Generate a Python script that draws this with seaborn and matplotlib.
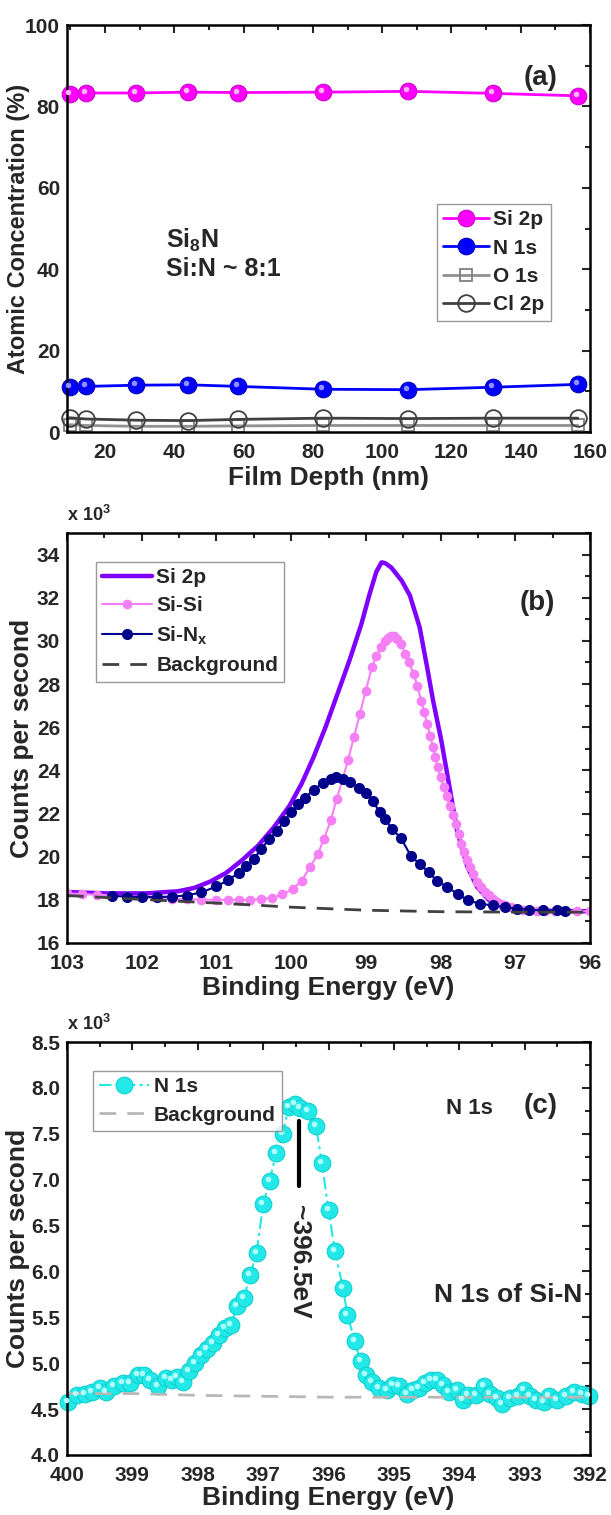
import numpy as np
import pandas as pd
import matplotlib
matplotlib.use("Agg")
import matplotlib.pyplot as plt
from matplotlib.ticker import MultipleLocator, FormatStrFormatter
from matplotlib.transforms import offset_copy
import seaborn as sns

# ---- panel (a): depth profile ----
depth = [9.8, 14.5, 29, 44, 58.5, 83, 107.5, 132, 156.5]
si2p_at = [83.0, 83.3, 83.3, 83.5, 83.4, 83.5, 83.7, 83.2, 82.6]
n1s_at = [11.0, 11.2, 11.5, 11.6, 11.2, 10.5, 10.4, 11.0, 11.7]
o1s_at = [1.8, 1.6, 1.4, 1.4, 1.5, 1.6, 1.6, 1.6, 1.6]
cl2p_at = [3.5, 3.2, 2.9, 2.8, 3.1, 3.4, 3.3, 3.4, 3.4]

# ---- panel (b): Si 2p fit ----
env_be = [103.0, 102.47, 101.94, 101.51, 101.3, 101.08, 100.87, 100.66, 100.44, 100.23,
          100.02, 99.86, 99.7, 99.54, 99.38, 99.22, 99.06, 98.95, 98.86, 98.79, 98.74,
          98.66, 98.52, 98.41, 98.28, 98.18, 98.1, 97.99, 97.88, 97.78, 97.64, 97.51,
          97.35, 97.14, 96.71, 96.34, 96.0]
env_cps = [18.36, 18.3, 18.3, 18.4, 18.55, 18.85, 19.25, 19.83, 20.52, 21.37,
           22.37, 23.38, 24.61, 26.0, 27.54, 29.09, 30.78, 32.17, 33.2, 33.64, 33.6,
           33.4, 32.79, 32.1, 30.63, 28.78, 27.23, 25.38, 23.22, 21.22, 19.52, 18.59,
           17.98, 17.7, 17.51, 17.48, 17.47]

sisi_be = [103.0, 102.8, 102.6, 102.4, 102.2, 102.0, 101.8, 101.6, 101.4, 101.2, 101.0,
           100.85, 100.7, 100.55, 100.4, 100.25, 100.12, 99.98, 99.86, 99.75, 99.64,
           99.56, 99.47, 99.39, 99.31, 99.24, 99.16, 99.08, 99.0, 98.92, 98.86, 98.8,
           98.74, 98.7, 98.66, 98.62, 98.58, 98.53, 98.47, 98.42, 98.36, 98.31, 98.26,
           98.22, 98.18, 98.14, 98.1, 98.07, 98.04, 98.0, 97.96, 97.92, 97.88, 97.84,
           97.8, 97.76, 97.72, 97.68, 97.64, 97.6, 97.56, 97.51, 97.46, 97.4, 97.35,
           97.3, 97.24, 97.19, 97.14, 97.06, 96.98, 96.9, 96.82, 96.71, 96.6, 96.47,
           96.34, 96.17, 96.0]
sisi_cps = [18.3, 18.27, 18.24, 18.2, 18.16, 18.12, 18.08, 18.05, 18.03, 18.01, 18.0,
            18.0, 18.0, 18.0, 18.03, 18.1, 18.25, 18.5, 18.88, 19.5, 20.14,
            20.83, 21.68, 22.68, 23.6, 24.46, 25.54, 26.62, 27.7, 28.78, 29.3, 29.7,
            30.0, 30.15, 30.25, 30.22, 30.1, 29.85, 29.4, 29.0, 28.47, 27.9, 27.23,
            26.7, 26.15, 25.6, 25.07, 24.6, 24.15, 23.7, 23.22, 22.8, 22.37, 21.95,
            21.52, 21.05, 20.6, 20.2, 19.83, 19.5, 19.21, 18.85, 18.59, 18.38, 18.21,
            18.05, 17.9, 17.8, 17.74, 17.66, 17.59, 17.55, 17.51, 17.49, 17.48, 17.48,
            17.48, 17.47, 17.47]

sinx_be = [102.4, 102.2, 102.0, 101.8, 101.6, 101.4, 101.2, 101.0, 100.85, 100.7,
           100.6, 100.5, 100.4, 100.3, 100.19, 100.09, 100.0, 99.91, 99.81, 99.7,
           99.58, 99.47, 99.4, 99.3, 99.21, 99.09, 99.0, 98.91, 98.81, 98.74, 98.65,
           98.53, 98.4, 98.28, 98.16, 98.05, 97.91, 97.77, 97.63, 97.47, 97.3, 97.14,
           96.98, 96.82, 96.63, 96.44, 96.34]
sinx_cps = [18.18, 18.15, 18.13, 18.13, 18.15, 18.2, 18.35, 18.62, 18.9, 19.25,
            19.55, 19.9, 20.35, 20.8, 21.2, 21.66, 22.05, 22.43, 22.74, 23.1,
            23.4, 23.62, 23.7, 23.62, 23.45, 23.2, 22.97, 22.58, 22.05, 21.74, 21.28,
            20.86, 20.05, 19.66, 19.28, 18.89, 18.58, 18.28, 17.97, 17.82, 17.74, 17.66,
            17.59, 17.54, 17.51, 17.51, 17.48]

bg_b_be = [103.0, 102.0, 101.0, 100.4, 100.0, 99.0, 98.0, 97.0, 96.0]
bg_b_cps = [18.2, 18.02, 17.85, 17.74, 17.66, 17.52, 17.45, 17.43, 17.43]

# ---- panel (c): N 1s ----
n1s_be = [399.98, 399.85, 399.73, 399.61, 399.49, 399.4, 399.28, 399.15, 399.04, 398.92,
          398.82, 398.73, 398.61, 398.49, 398.4, 398.31, 398.22, 398.13, 398.04, 397.95,
          397.86, 397.77, 397.67, 397.58, 397.49, 397.4, 397.29, 397.2, 397.1, 397.0,
          396.9, 396.8, 396.7, 396.61, 396.52, 396.43, 396.31, 396.19, 396.1, 396.0,
          395.9, 395.78, 395.71, 395.6, 395.51, 395.43, 395.34, 395.22, 395.1, 395.01,
          394.92, 394.8, 394.71, 394.62, 394.52, 394.43, 394.34, 394.25, 394.16, 394.04,
          393.95, 393.86, 393.74, 393.62, 393.53, 393.43, 393.34, 393.22, 393.1, 393.01,
          392.92, 392.83, 392.71, 392.62, 392.5, 392.37, 392.25, 392.13, 392.01]
n1s_cps = [4.58, 4.65, 4.67, 4.69, 4.73, 4.69, 4.75, 4.78, 4.78, 4.87,
           4.87, 4.82, 4.75, 4.84, 4.82, 4.85, 4.8, 4.91, 5.0, 5.09,
           5.15, 5.22, 5.31, 5.38, 5.42, 5.62, 5.71, 5.96, 6.2, 6.73,
           6.99, 7.29, 7.5, 7.79, 7.82, 7.78, 7.75, 7.58, 7.18, 6.67,
           6.22, 5.82, 5.53, 5.24, 5.02, 4.87, 4.8, 4.73, 4.71, 4.76,
           4.75, 4.67, 4.71, 4.73, 4.78, 4.82, 4.82, 4.76, 4.69, 4.71,
           4.6, 4.65, 4.65, 4.75, 4.67, 4.62, 4.56, 4.62, 4.64, 4.71,
           4.64, 4.6, 4.58, 4.64, 4.6, 4.64, 4.69, 4.67, 4.64]
bg_c_be = [400.0, 399.0, 398.0, 397.0, 396.0, 395.0, 394.0, 393.0, 392.0]
bg_c_cps = [4.67, 4.67, 4.65, 4.64, 4.63, 4.63, 4.63, 4.63, 4.63]

sns.set_style("white")
plt.rcParams['font.family'] = ['Liberation Sans', 'DejaVu Sans']
plt.rcParams['font.weight'] = 'bold'
plt.rcParams['axes.labelweight'] = 'bold'
plt.rcParams['mathtext.fontset'] = 'custom'
plt.rcParams['mathtext.rm'] = 'Liberation Sans:bold'
plt.rcParams['mathtext.it'] = 'Liberation Sans:bold'
plt.rcParams['mathtext.bf'] = 'Liberation Sans:bold'

W, H = 611, 1515
fig = plt.figure(figsize=(W / 100, H / 100), dpi=100)


def make_ax(top, bottom, left=67, right=590):
    return fig.add_axes([left / W, 1 - bottom / H, (right - left) / W, (bottom - top) / H])


def style_ax(ax):
    for s in ax.spines.values():
        s.set_linewidth(1.8)
        s.set_color('black')
    ax.tick_params(which='both', direction='in', top=True, right=True,
                   width=1.5, labelsize=15)
    ax.tick_params(axis='x', pad=8)
    ax.tick_params(axis='y', pad=5)
    ax.tick_params(which='major', length=6)
    ax.tick_params(which='minor', length=3.5)
    for lab in ax.get_xticklabels() + ax.get_yticklabels():
        lab.set_fontweight('bold')
    ax.yaxis.set_label_coords(-0.064, 0.5)


def shine(ax, x, y, color, size):
    # small highlight on the ball markers
    tr = offset_copy(ax.transData, fig=fig, x=-2, y=2, units='dots')
    ax.plot(x, y, linestyle='none', marker='o', markersize=size, color=color,
            markeredgewidth=0, transform=tr, clip_on=False, zorder=5)


def legend_box(ax, x0, y0, hl=2.2):
    leg = ax.legend(loc='upper left', bbox_to_anchor=(x0, y0), fontsize=15,
                    frameon=True, fancybox=False, edgecolor='#808080', handlelength=hl,
                    handletextpad=0.2, borderpad=0.3, labelspacing=0.45, borderaxespad=0)
    leg.get_frame().set_linewidth(1.0)
    return leg


LBL = 19

# ---------- (a) ----------
ax1 = make_ax(25, 432)
sns.lineplot(x=depth, y=si2p_at, ax=ax1, color='#ff00ff', marker='o', markersize=12,
             markeredgecolor='#cc00cc', linewidth=2, label='Si 2p')
sns.lineplot(x=depth, y=n1s_at, ax=ax1, color='#0000ff', marker='o', markersize=12,
             markeredgecolor='#0000bb', linewidth=2, label='N 1s')
sns.lineplot(x=depth, y=o1s_at, ax=ax1, color='#909090', marker='s', markersize=9,
             markerfacecolor='none', markeredgecolor='#808080', markeredgewidth=1.3,
             linewidth=2, label='O 1s')
sns.lineplot(x=depth, y=cl2p_at, ax=ax1, color='#404040', marker='o', markersize=12,
             markerfacecolor='none', markeredgecolor='#404040', markeredgewidth=1.3,
             linewidth=2, label='Cl 2p')
for ln in ax1.lines:
    ln.set_clip_on(False)
shine(ax1, depth, si2p_at, '#ffb8ff', 4)
shine(ax1, depth, n1s_at, '#9090ff', 4)
ax1.set_xlim(9, 160)
ax1.set_ylim(0, 100)
ax1.xaxis.set_major_locator(MultipleLocator(20))
ax1.xaxis.set_minor_locator(MultipleLocator(10))
ax1.yaxis.set_major_locator(MultipleLocator(20))
ax1.yaxis.set_minor_locator(MultipleLocator(10))
ax1.set_xlabel('Film Depth (nm)', fontsize=LBL, fontweight='bold', labelpad=3)
ax1.set_ylabel('Atomic Concentration (%)', fontsize=17, fontweight='bold')
style_ax(ax1)
ax1.yaxis.set_label_coords(-0.07, 0.5)
legend_box(ax1, 0.707, 0.56)
ax1.text(0.19, 0.47, 'Si$_8$N', transform=ax1.transAxes, fontsize=18,
         fontweight='bold', va='center')
ax1.text(0.19, 0.40, 'Si:N ~ 8:1', transform=ax1.transAxes, fontsize=18,
         fontweight='bold', va='center')
ax1.text(0.905, 0.87, '(a)', transform=ax1.transAxes, fontsize=20,
         fontweight='bold', ha='center', va='center')

# ---------- (b) ----------
ax2 = make_ax(533, 943)
sns.lineplot(x=env_be, y=env_cps, ax=ax2, color='#7f00ff', linewidth=3.2,
             sort=False, label='Si 2p')
sns.lineplot(x=sisi_be, y=sisi_cps, ax=ax2, color='#f57ff5', marker='o', markersize=7,
             markeredgewidth=0, linewidth=1.5, sort=False, label='Si-Si')
sns.lineplot(x=sinx_be, y=sinx_cps, ax=ax2, color='#00008b', marker='o', markersize=8,
             markeredgewidth=0, linewidth=1.5, sort=False, label='Si-N$_\\mathrm{x}$')
sns.lineplot(x=bg_b_be, y=bg_b_cps, ax=ax2, color='#404040', linewidth=2,
             sort=False, label='Background')
ax2.lines[-1].set_dashes([6, 4])
ax2.set_xlim(103, 96)
ax2.set_ylim(16, 35)
ax2.xaxis.set_major_locator(MultipleLocator(1))
ax2.xaxis.set_minor_locator(MultipleLocator(0.5))
ax2.yaxis.set_major_locator(MultipleLocator(2))
ax2.yaxis.set_minor_locator(MultipleLocator(1))
ax2.set_xlabel('Binding Energy (eV)', fontsize=LBL, fontweight='bold', labelpad=2)
ax2.set_ylabel('Counts per second', fontsize=LBL, fontweight='bold')
style_ax(ax2)
legend_box(ax2, 0.055, 0.93, hl=2.4)
ax2.text(0, 1.02, 'x 10$^3$', transform=ax2.transAxes, fontsize=13,
         fontweight='bold', ha='left', va='bottom')
ax2.text(0.9, 0.83, '(b)', transform=ax2.transAxes, fontsize=20,
         fontweight='bold', ha='center', va='center')

# ---------- (c) ----------
ax3 = make_ax(1042, 1455)
sns.lineplot(x=n1s_be, y=n1s_cps, ax=ax3, color='#22e8e8', marker='o', markersize=12,
             markeredgecolor='#10d0d0', markeredgewidth=0.8, linewidth=1.5,
             sort=False, label='N 1s')
ax3.lines[-1].set_dashes([6, 2, 1.5, 2])
sns.lineplot(x=bg_c_be, y=bg_c_cps, ax=ax3, color='#b8b8b8', linewidth=2,
             sort=False, label='Background')
ax3.lines[-1].set_dashes([6, 4])
for ln in ax3.lines:
    ln.set_clip_on(False)
shine(ax3, n1s_be, n1s_cps, '#b0ffff', 4)
ax3.set_xlim(400, 392)
ax3.set_ylim(4.0, 8.5)
ax3.xaxis.set_major_locator(MultipleLocator(1))
ax3.xaxis.set_minor_locator(MultipleLocator(0.5))
ax3.yaxis.set_major_locator(MultipleLocator(0.5))
ax3.yaxis.set_minor_locator(MultipleLocator(0.25))
ax3.yaxis.set_major_formatter(FormatStrFormatter('%.1f'))
ax3.set_xlabel('Binding Energy (eV)', fontsize=LBL, fontweight='bold', labelpad=1)
ax3.set_ylabel('Counts per second', fontsize=LBL, fontweight='bold')
style_ax(ax3)
ax3.yaxis.set_label_coords(-0.07, 0.5)
legend_box(ax3, 0.05, 0.93, hl=2.4)
ax3.text(0, 1.02, 'x 10$^3$', transform=ax3.transAxes, fontsize=13,
         fontweight='bold', ha='left', va='bottom')
ax3.text(0.905, 0.845, '(c)', transform=ax3.transAxes, fontsize=20,
         fontweight='bold', ha='center', va='center')
ax3.text(0.77, 0.84, 'N 1s', transform=ax3.transAxes, fontsize=16,
         fontweight='bold', ha='center', va='center')
ax3.plot([396.45, 396.45], [6.93, 7.635], color='black', linewidth=3)
ax3.text(396.45, 6.1, '~396.5eV', rotation=-90, fontsize=19, fontweight='bold',
         ha='center', va='center')
ax3.text(393.25, 5.74, 'N 1s of Si-N', fontsize=19, fontweight='bold',
         ha='center', va='center')

fig.savefig('out.png', dpi=100)
